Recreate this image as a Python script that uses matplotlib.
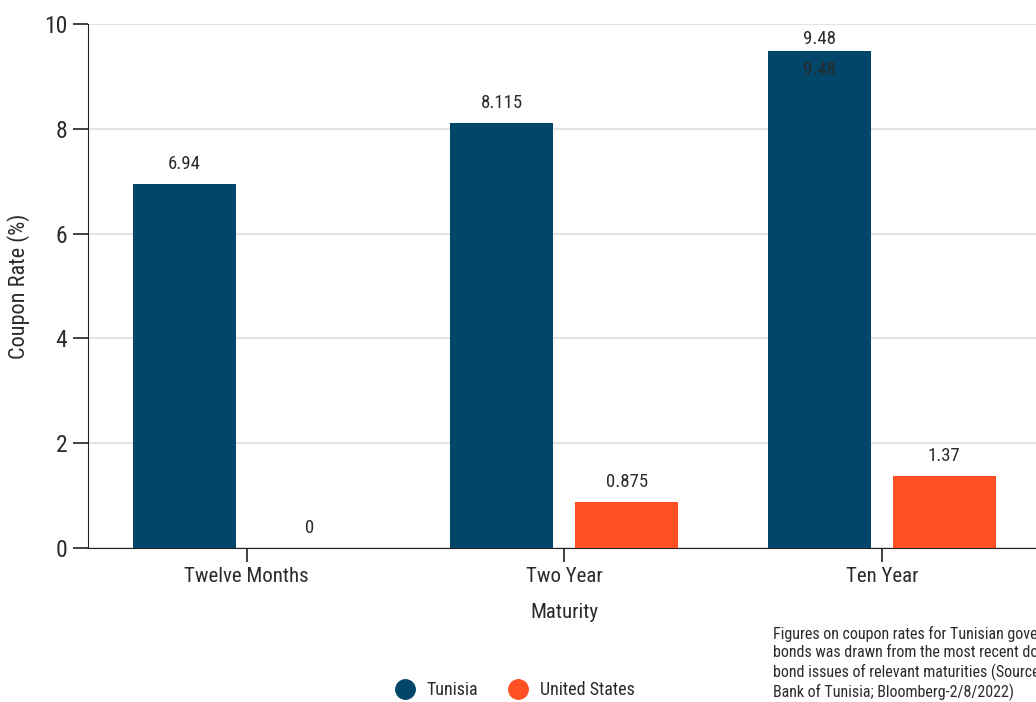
import matplotlib
matplotlib.use("Agg")
import matplotlib.pyplot as plt
from matplotlib.lines import Line2D
import numpy as np

# ── Data ────────────────────────────────────────────────────────────
maturities = ["Twelve Months", "Two Year", "Ten Year"]
tunisia = [6.94, 8.115, 9.48]
united_states = [0, 0.875, 1.37]
tunisia_labels = ["6.94", "8.115", "9.48"]
us_labels = ["0", "0.875", "1.37"]

note = ("Figures on coupon rates for Tunisian government\n"
        "bonds was drawn from the most recent domestic\n"
        "bond issues of relevant maturities (Source: Central\n"
        "Bank of Tunisia; Bloomberg-2/8/2022)")

C_TUN = "#02466a"
C_US = "#ff4f23"
C_TXT = "#2b2b2b"

plt.rcParams["font.family"] = ["Roboto Condensed", "Liberation Sans Narrow", "DejaVu Sans"]

fig = plt.figure(figsize=(10.36, 7.02), dpi=100)
ax = fig.add_axes([88 / 1036, 1 - 548 / 702, 952.5 / 1036, (548 - 24) / 702])

x = np.arange(len(maturities))
w = 0.325
off = 0.197
ax.bar(x - off, tunisia, w, color=C_TUN, zorder=3)
ax.bar(x + off, united_states, w, color=C_US, zorder=3)

# value labels (the top one is pushed down to stay inside the axes)
tun_pad = [8, 8, 2]
for xi, v, lab, p in zip(x - off, tunisia, tunisia_labels, tun_pad):
    ax.annotate(lab, (xi, v), xytext=(0, p), textcoords="offset points",
                ha="center", va="bottom", fontsize=13.5, color=C_TXT)
for xi, v, lab in zip(x + off, united_states, us_labels):
    ax.annotate(lab, (xi, v), xytext=(0, 8), textcoords="offset points",
                ha="center", va="bottom", fontsize=13.5, color=C_TXT)
# duplicated label inside the tallest bar
ax.annotate(tunisia_labels[2], (x[2] - off, tunisia[2]), xytext=(0, -7),
            textcoords="offset points", ha="center", va="top",
            fontsize=13.5, color="#2a2a2a")

ax.set_xlim(-0.5, 2.5)
ax.set_ylim(0, 10)
ax.set_yticks([0, 2, 4, 6, 8, 10])
ax.set_xticks(x)
ax.set_xticklabels(maturities)
ax.grid(axis="y", color="#e3e3e3", linewidth=1.5, zorder=0)
ax.set_axisbelow(True)

for s in ["top", "right"]:
    ax.spines[s].set_visible(False)
ax.spines["left"].set_color("#222222")
ax.spines["bottom"].set_color("#222222")
ax.tick_params(axis="y", length=11, width=1.2, color="#222222",
               labelsize=17, labelcolor=C_TXT, pad=4)
ax.tick_params(axis="x", length=10, width=1.2, color="#222222",
               labelsize=15, labelcolor=C_TXT, pad=4)

ax.set_xlabel("Maturity", fontsize=15, color=C_TXT, labelpad=12)
ax.set_ylabel("Coupon Rate (%)", fontsize=16, color=C_TXT, labelpad=10)

handles = [Line2D([], [], marker="o", linestyle="", markersize=14,
                  markerfacecolor=C_TUN, markeredgecolor=C_TUN),
           Line2D([], [], marker="o", linestyle="", markersize=14,
                  markerfacecolor=C_US, markeredgecolor=C_US)]
fig.legend(handles, ["Tunisia", "United States"], loc="center",
           bbox_to_anchor=(511 / 1036, 1 - 690 / 702), ncol=2, frameon=False,
           fontsize=13, labelcolor=C_TXT, handletextpad=0.2, columnspacing=1.2)

# the note runs past the right edge in the original too
fig.text(773 / 1036, 1 - 626 / 702, note, ha="left", va="top",
         fontsize=11.5, color=C_TXT, linespacing=1.25)

fig.savefig("out.png", dpi=100)
